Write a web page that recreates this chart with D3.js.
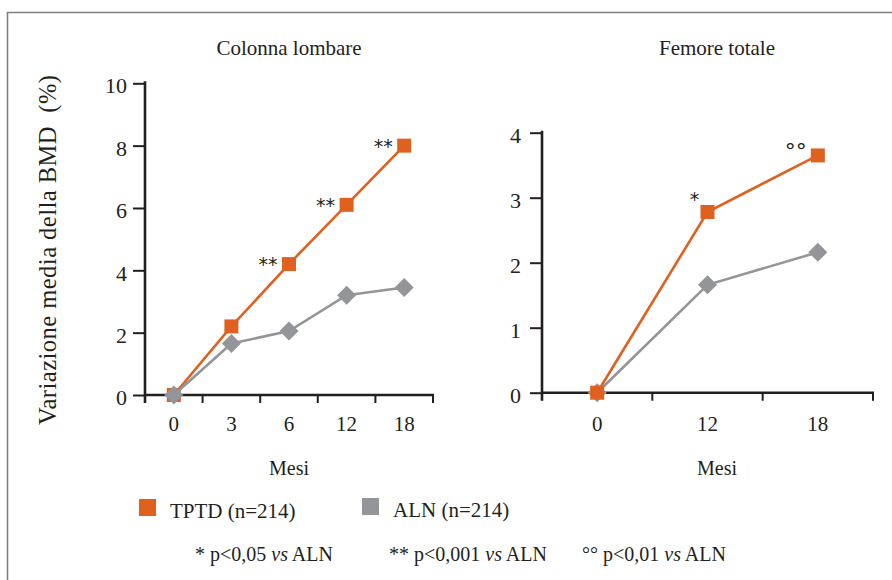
<!DOCTYPE html>
<html>
<head>
<meta charset="utf-8">
<script src="https://cdn.jsdelivr.net/npm/d3@7"></script>
<style>
  body { margin: 0; background: #fff; }
  svg { display: block; }
  .serif { font-family: 'Liberation Serif', 'DejaVu Serif', serif; }
  .sans { font-family: 'DejaVu Sans', sans-serif; }
</style>
</head>
<body>
<div id="chart"></div>
<script>
// dati (variazione media % BMD)
const monthsLumbar = ['0', '3', '6', '12', '18'];
const tptdLumbar = [0, 2.2, 4.2, 6.1, 8.0];
const alnLumbar = [0, 1.65, 2.05, 3.2, 3.45];
const ticksLumbar = [0, 2, 4, 6, 8, 10];

const monthsFemur = ['0', '12', '18'];
const tptdFemur = [0, 2.78, 3.65];
const alnFemur = [0, 1.66, 2.16];
const ticksFemur = [0, 1, 2, 3, 4];

const marksLumbar = [{month: '6', text: '**'}, {month: '12', text: '**'}, {month: '18', text: '**'}];
const marksFemur = [{month: '12', text: '*'}, {month: '18', text: '°°'}];

const seriesNames = ['TPTD (n=214)', 'ALN (n=214)'];
const footnotes = [
    {mark: '* p<0,05 ', vs: 'vs', tail: ' ALN'},
    {mark: '** p<0,001 ', vs: 'vs', tail: ' ALN'},
    {mark: '°° p<0,01 ', vs: 'vs', tail: ' ALN'}
];

const ORANGE = '#e0601f';
const GREY = '#939598';
const INK = '#231f20';

const width = 892, height = 580;
const svg = d3.select('#chart')
    .append('svg')
    .attr('width', width)
    .attr('height', height);

// cornice
svg.append('path')
    .attr('d', 'M7.5,580 V12.5 H892')
    .attr('fill', 'none')
    .attr('stroke', '#7f7f7f')
    .attr('stroke-width', 1.6);

function drawPanel(cfg) {
    const x = d3.scaleBand().domain(cfg.months).range(cfg.xRange).paddingInner(0).paddingOuter(0);
    const y = d3.scaleLinear().domain(cfg.yDomain).range(cfg.yRange);
    const g = svg.append('g');
    const cx = (m) => x(m) + x.bandwidth() / 2;

    // titolo
    g.append('text')
        .attr('class', 'serif')
        .attr('x', cfg.titleX).attr('y', 55)
        .attr('text-anchor', 'middle')
        .style('font-size', '21px')
        .attr('fill', INK)
        .text(cfg.title);

    // asse y
    const yAxis = g.append('g')
        .attr('transform', `translate(${cfg.xRange[0]},0)`)
        .call(d3.axisLeft(y).tickValues(cfg.ticks).tickFormat(d3.format('d'))
            .tickSize(12).tickPadding(cfg.tickPad));
    yAxis.select('.domain').remove();
    yAxis.selectAll('.tick line').attr('stroke', INK).attr('stroke-width', 2);
    yAxis.selectAll('.tick text')
        .attr('class', 'serif')
        .style('font-size', '22px')
        .attr('fill', INK).attr('dy', '0.44em');

    g.append('line')
        .attr('x1', cfg.xRange[0]).attr('x2', cfg.xRange[0])
        .attr('y1', cfg.yRange[1] - 2).attr('y2', cfg.yRange[0] + 8)
        .attr('stroke', INK).attr('stroke-width', 2.6);

    // asse x: linea, tacche ai bordi delle bande, etichette al centro
    g.append('line')
        .attr('x1', cfg.xRange[0]).attr('x2', cfg.xRange[1] + 1)
        .attr('y1', cfg.yRange[0]).attr('y2', cfg.yRange[0])
        .attr('stroke', INK).attr('stroke-width', 2.6);
    g.selectAll('.xtick')
        .data(cfg.months)
        .enter().append('line')
        .attr('x1', (d) => x(d) + x.bandwidth()).attr('x2', (d) => x(d) + x.bandwidth())
        .attr('y1', cfg.yRange[0]).attr('y2', cfg.yRange[0] + 8)
        .attr('stroke', INK).attr('stroke-width', 2);
    g.selectAll('.xlabel')
        .data(cfg.months)
        .enter().append('text')
        .attr('class', 'serif')
        .attr('x', cx).attr('y', 431)
        .attr('text-anchor', 'middle')
        .style('font-size', '21px')
        .attr('fill', INK)
        .text((d) => d);

    g.append('text')
        .attr('class', 'serif')
        .attr('x', cfg.titleX).attr('y', 475)
        .attr('text-anchor', 'middle')
        .style('font-size', '20px')
        .attr('fill', INK)
        .text('Mesi');

    const line = d3.line().x((d) => cx(d.m)).y((d) => y(d.v));

    function drawTptd() {
        const pts = cfg.months.map((m, i) => ({m: m, v: cfg.tptd[i]}));
        g.append('path').datum(pts)
            .attr('d', line).attr('fill', 'none')
            .attr('stroke', ORANGE).attr('stroke-width', 2.6);
        g.selectAll(null).data(pts).enter().append('rect')
            .attr('x', (d) => cx(d.m) - 7).attr('y', (d) => y(d.v) - 7)
            .attr('width', 14).attr('height', 14)
            .attr('fill', ORANGE);
    }
    function drawAln() {
        const pts = cfg.months.map((m, i) => ({m: m, v: cfg.aln[i]}));
        g.append('path').datum(pts)
            .attr('d', line).attr('fill', 'none')
            .attr('stroke', GREY).attr('stroke-width', 2.6);
        g.selectAll(null).data(pts).enter().append('path')
            .attr('d', 'M0,-9.5 L9.5,0 L0,9.5 L-9.5,0 Z')
            .attr('transform', (d) => `translate(${cx(d.m)},${y(d.v)})`)
            .attr('fill', GREY);
    }
    if (cfg.orangeOnTop) { drawAln(); drawTptd(); } else { drawTptd(); drawAln(); }

    // asterischi di significatività
    cfg.marks.forEach((mk) => {
        const i = cfg.months.indexOf(mk.month);
        const off = cfg.markOffsets[mk.text];
        const isDeg = mk.text === '°°';
        const fs = isDeg ? 22 : 19;
        g.append('text')
            .attr('class', 'sans')
            .attr('x', cx(mk.month) + off[0])
            .attr('y', y(cfg.tptd[i]) + off[1] + fs * 0.57)
            .attr('text-anchor', 'middle')
            .style('font-size', fs + 'px')
            .attr('fill', INK)
            .text(mk.text);
    });
}

drawPanel({
    title: 'Colonna lombare', titleX: 289,
    months: monthsLumbar, tptd: tptdLumbar, aln: alnLumbar,
    ticks: ticksLumbar, yDomain: [0, 10],
    xRange: [145, 433], yRange: [395, 83.3], tickPad: 6,
    marks: marksLumbar, markOffsets: {'**': [-21, -3.5]},
    orangeOnTop: false
});

drawPanel({
    title: 'Femore totale', titleX: 717,
    months: monthsFemur, tptd: tptdFemur, aln: alnFemur,
    ticks: ticksFemur, yDomain: [0, 4],
    xRange: [542, 873], yRange: [392.7, 132.7], tickPad: 9,
    marks: marksFemur, markOffsets: {'*': [-13, -17], '°°': [-22, -8.5]},
    orangeOnTop: true
});

// titolo asse y
svg.append('text')
    .attr('class', 'serif')
    .attr('transform', 'translate(56,250) rotate(-90)')
    .attr('text-anchor', 'middle')
    .attr('textLength', 350)
    .attr('lengthAdjust', 'spacing')
    .style('font-size', '24.5px')
    .style('white-space', 'pre')
    .attr('fill', INK)
    .text('Variazione media della BMD  (%)');

// legenda
const legendPos = [{x: 139, y: 499}, {x: 362, y: 498}];
[ORANGE, GREY].forEach((c, i) => {
    svg.append('rect')
        .attr('x', legendPos[i].x).attr('y', legendPos[i].y)
        .attr('width', 17).attr('height', 17)
        .attr('fill', c);
    svg.append('text')
        .attr('class', 'serif')
        .attr('x', legendPos[i].x + 31).attr('y', legendPos[i].y + 18.5)
        .style('font-size', '21px')
        .attr('fill', INK)
        .text(seriesNames[i]);
});

// note
const noteX = [195, 389, 582];
footnotes.forEach((f, i) => {
    const t = svg.append('text')
        .attr('class', 'serif')
        .attr('x', noteX[i]).attr('y', 561)
        .style('font-size', '20px')
        .style('white-space', 'pre')
        .attr('fill', INK);
    t.append('tspan').text(f.mark);
    t.append('tspan').style('font-style', 'italic').text(f.vs);
    t.append('tspan').text(f.tail);
});
</script>
</body>
</html>
